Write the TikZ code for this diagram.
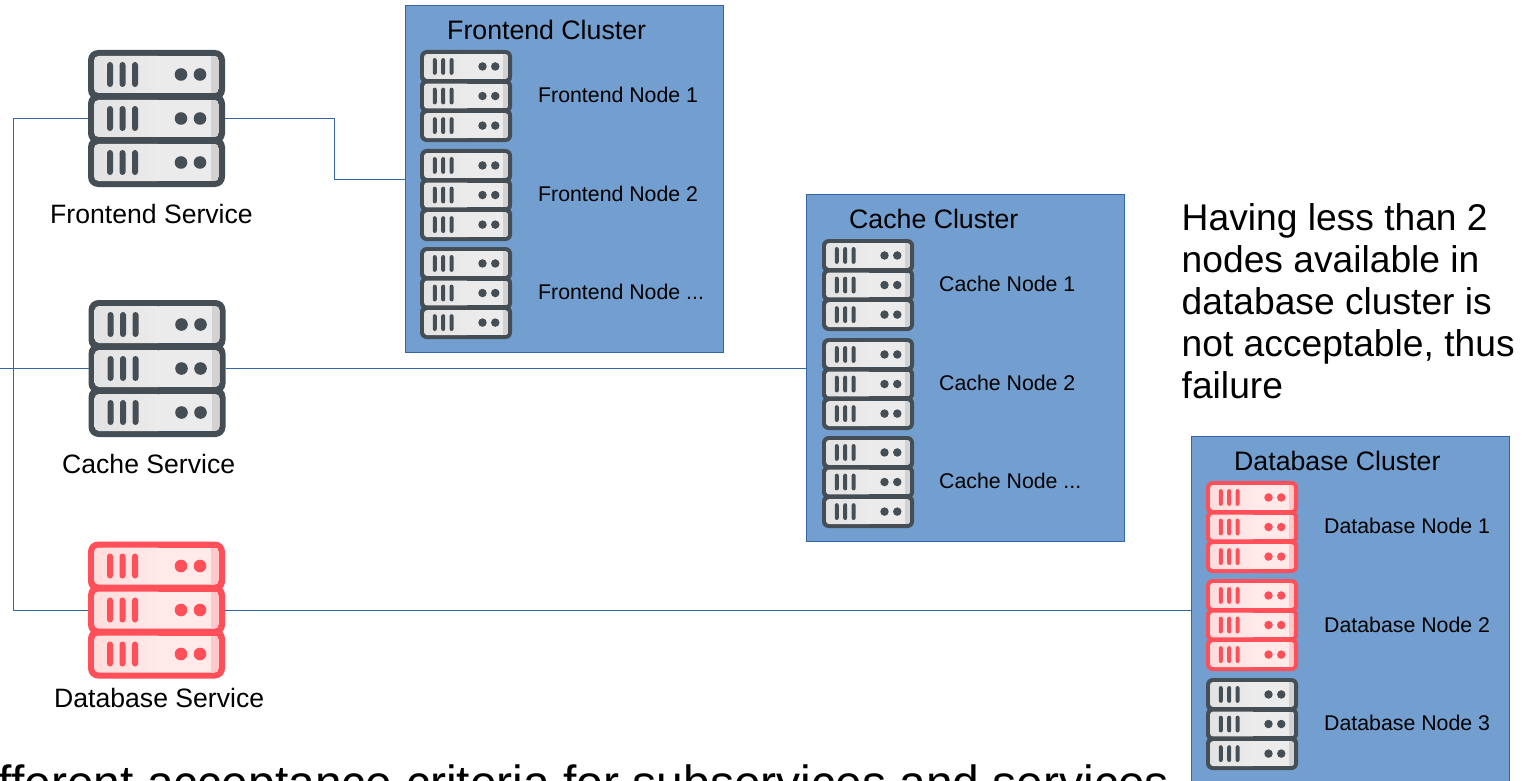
\documentclass[tikz,border=0pt]{standalone}
\usepackage{fontspec}
\setmainfont{Liberation Sans}
\definecolor{clfill}{HTML}{729FCF}
\definecolor{clline}{HTML}{3465A4}
\definecolor{darkS}{HTML}{454E54}
\definecolor{darkF}{HTML}{EBEBEB}
\definecolor{darkL}{HTML}{E2E2E2}
\definecolor{darkR}{HTML}{D2D2D2}
\definecolor{redS}{HTML}{FF4F58}
\definecolor{redF}{HTML}{FFE9E9}
\definecolor{redL}{HTML}{FFDCDC}
\definecolor{redR}{HTML}{FFC9CB}
% \srvicon{name}{left}{top}{scale}{prefix}
\newcommand{\srvicon}[5]{%
  \pgfmathsetmacro\srvS{#4}%
  \pgfmathsetmacro\srvA{10*\srvS}%
  \pgfmathsetmacro\srvB{4.5*\srvS}%
  \pgfmathsetmacro\srvC{3*\srvS}%
  \pgfmathsetmacro\srvSize{137*\srvS}%
  \node[iconbox,minimum width=\srvSize pt,minimum height=\srvSize pt,anchor=north west] (#1) at (#2,#3) {};
  \begin{scope}[shift={(#2,#3)},x=\srvS pt,y=-\srvS pt]
    \foreach \t/\h in {0/50,43.5/50,87/50}{
      \fill[#5S,rounded corners=\srvA pt] (0,\t) rectangle (137,\t+\h);
    }
    \foreach \t/\h in {6/37,50/37,94/37}{
      \begin{scope}
        \clip[rounded corners=\srvB pt] (6,\t) rectangle (131,\t+\h);
        \shade[left color=#5L,right color=#5F,shading angle=90] (6,\t) rectangle (70,\t+\h);
        \fill[#5F] (70,\t) rectangle (131,\t+\h);
        \fill[#5R] (123,\t) rectangle (131,\t+\h);
      \end{scope}
      \foreach \b in {19,31.5,44}{
        \fill[#5S,rounded corners=\srvC pt] (\b,\t+6) rectangle (\b+6,\t+31);
      }
      \fill[#5S] (93,\t+18.5) circle (6.3);
      \fill[#5S] (112,\t+18.5) circle (6.3);
    }
  \end{scope}
}
\tikzset{
  iconbox/.style={inner sep=0pt,outer sep=0pt},
  cluster/.style={draw=clline,fill=clfill,line width=0.8pt,inner sep=0pt,outer sep=0pt,anchor=north west,minimum width=318pt},
  wire/.style={draw=clline,line width=0.9pt},
  svc/.style={anchor=base west,inner sep=0pt,font=\fontsize{26.6}{30}\selectfont},
  title/.style={anchor=base west,inner sep=0pt,font=\fontsize{26.7}{30}\selectfont},
  lbl/.style={anchor=base west,inner sep=0pt,font=\fontsize{21.3}{24}\selectfont},
}
\begin{document}
\begin{tikzpicture}[x=1pt,y=-1pt]
\useasboundingbox (0,0) rectangle (1529,781);
\clip (0,0) rectangle (1529,781);
\fill[white] (0,0) rectangle (1529,781);
% clusters
\node[cluster,minimum height=347pt] (fec) at (405,5.7) {};
\node[cluster,minimum height=347pt] (cac) at (806.7,194.7) {};
\node[cluster,minimum height=355pt] (dbc) at (1191,436) {};
% service icons
\srvicon{fes}{88}{50}{1}{dark}
\srvicon{cas}{88.5}{300}{1}{dark}
\srvicon{dbs}{88}{541.5}{1}{red}
% connectors
\coordinate (edge) at (0,368.5);
\coordinate (trunk) at (13,118.5);
\coordinate (elbow) at (334,118.5);
\draw[wire] (fes.west) -- (trunk) |- (dbs.west);
\draw[wire] (fes.east) -- (elbow) |- (fec.west);
\draw[wire] (edge) -- (cas.west);
\draw[wire] (cas.east) -- (cas.east -| cac.west);
\draw[wire] (dbs.east) -- (dbs.east -| dbc.west);
% frontend
\srvicon{fe1}{420}{50}{0.672}{dark}
\srvicon{fe2}{420}{149}{0.672}{dark}
\srvicon{fe3}{420}{247}{0.672}{dark}
% cache
\srvicon{ca1}{822}{239}{0.672}{dark}
\srvicon{ca2}{822}{338}{0.672}{dark}
\srvicon{ca3}{822}{436}{0.672}{dark}
% db
\srvicon{db1}{1206}{481}{0.672}{red}
\srvicon{db2}{1206}{579}{0.672}{red}
\srvicon{db3}{1206}{678}{0.672}{dark}
% labels
\node[svc] (t1) at (50,223) {Frontend Service};
\node[svc] (t2) at (62,473) {Cache Service};
\node[svc] (t3) at (54,707) {Database Service};
\node[title] (t4) at (447,40) {Frontend Cluster};
\node[title] (t5) at (849,228) {Cache Cluster};
\node[title] (t6) at (1234,470) {Database Cluster};
\node[lbl] (l1) at (538,102.5) {Frontend Node 1};
\node[lbl] (l2) at (538,201) {Frontend Node 2};
\node[lbl] (l3) at (538,299) {Frontend Node ...};
\node[lbl] (l4) at (939,291) {Cache Node 1};
\node[lbl] (l5) at (939,390) {Cache Node 2};
\node[lbl] (l6) at (939,488) {Cache Node ...};
\node[lbl] (l7) at (1324,533) {Database Node 1};
\node[lbl] (l8) at (1324,632) {Database Node 2};
\node[lbl] (l9) at (1324,730) {Database Node 3};
\node[anchor=north west,inner sep=0pt,align=left,font=\fontsize{37.2}{42}\selectfont] (note) at (1181.5,203) {Having less than 2\\nodes available in\\database cluster is\\not acceptable, thus\\failure};
\node[anchor=base west,inner sep=0pt,font=\fontsize{48}{52}\selectfont] (crit) at (-1.5,799) {fferent acceptance criteria for subservices and services};
\end{tikzpicture}
\end{document}
